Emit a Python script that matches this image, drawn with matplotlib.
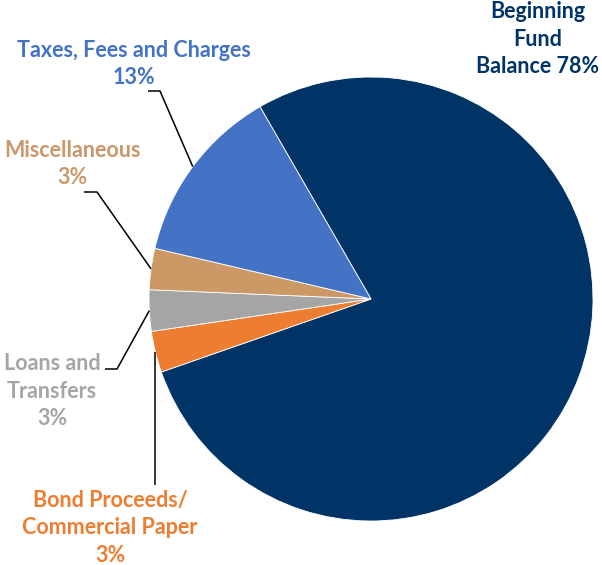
import matplotlib
matplotlib.use("Agg")
import matplotlib.pyplot as plt
import numpy as np

# data, drawn clockwise starting from the big slice
categories = ["Beginning Fund Balance", "Bond Proceeds/Commercial Paper", "Loans and Transfers",
              "Miscellaneous", "Taxes, Fees and Charges"]
shares = [78, 3, 3, 3, 13]
colors = ["#003366", "#ED7D31", "#A5A5A5", "#CC9966", "#4472C4"]
text_colors = ["#003366", "#ED7D31", "#A5A5A5", "#C9976A", "#4472C4"]

W, H = 602, 565
plt.rcParams['font.family'] = ['Lato', 'DejaVu Sans']

fig = plt.figure(figsize=(W / 100, H / 100), dpi=100)
ax = fig.add_axes([0, 0, 1, 1])

cx, cy, r = 371, H - 299, 222
wedges, _ = ax.pie(shares, colors=colors, startangle=120, counterclock=False,
                   center=(cx, cy), radius=r, frame=True,
                   wedgeprops=dict(edgecolor='white', linewidth=0.6))
ax.set_xlim(0, W)
ax.set_ylim(0, H)
ax.axis('off')

def px(x, y):
    return x, H - y

# label positions (pixel coords, y from top)
label_pos = [(538, 39), (110, 528), (52, 391), (72, 164), (134, 64)]
label_text = ["Beginning\nFund\nBalance {}%", "Bond Proceeds/\nCommercial Paper\n{}%",
              "Loans and\nTransfers\n{}%", "Miscellaneous\n{}%", "Taxes, Fees and Charges\n{}%"]
for (x, y), t, v, c in zip(label_pos, label_text, shares, text_colors):
    ax.text(*px(x, y), t.format(v), color=c, fontsize=15.5, fontweight='bold',
            ha='center', va='center', linespacing=1.4)

# leader lines: from label elbow to the middle of the wedge edge
def edge_point(w):
    a = np.deg2rad((w.theta1 + w.theta2) / 2)
    return cx + r * np.cos(a), cy + r * np.sin(a)

leaders = {4: [(148, 91), (160, 91)], 3: [(84, 192), (97, 192)], 2: [(105, 369), (117, 369)],
           1: [(155, 485)]}
for i, pts in leaders.items():
    ex, ey = edge_point(wedges[i])
    xs = [p[0] for p in pts] + [ex]
    ys = [H - p[1] for p in pts] + [ey]
    if i == 1:
        xs = [155, 155]
        ys = [H - 485, ey]
    ax.plot(xs, ys, color='black', lw=1.1, solid_capstyle='butt')

fig.savefig("out.png", dpi=100)
